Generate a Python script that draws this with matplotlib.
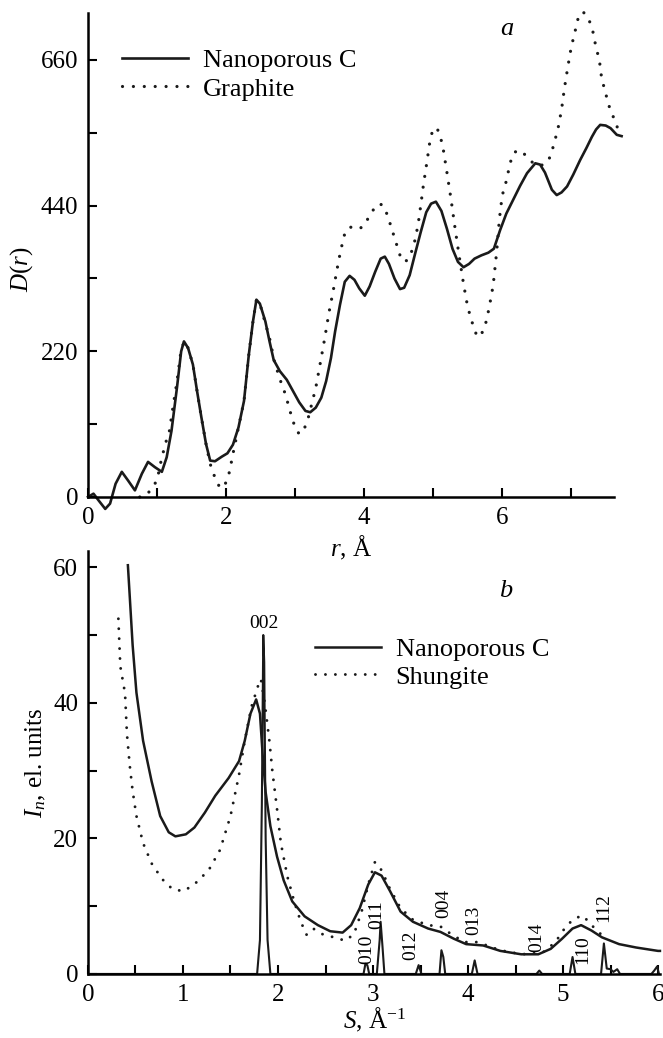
import matplotlib
matplotlib.use("Agg")
import matplotlib.pyplot as plt

plt.rcParams['font.family'] = ['Liberation Serif', 'DejaVu Serif']
plt.rcParams['mathtext.fontset'] = 'custom'
plt.rcParams['mathtext.rm'] = 'Liberation Serif'
plt.rcParams['mathtext.it'] = 'Liberation Serif:italic'

# --- panel a: D(r) ---
r_nano = [0.00, 0.08, 0.16, 0.25, 0.32, 0.40, 0.49, 0.58, 0.68, 0.78, 0.87, 0.97, 1.07, 1.14,
          1.21, 1.29, 1.35, 1.39, 1.45, 1.52, 1.58, 1.64, 1.71, 1.77, 1.84, 1.94, 2.02, 2.10,
          2.18, 2.26, 2.33, 2.39, 2.44, 2.49, 2.57, 2.63, 2.69, 2.78, 2.88, 2.97, 3.06, 3.15,
          3.22, 3.30, 3.38, 3.45, 3.52, 3.58, 3.65, 3.72, 3.79, 3.86, 3.93, 4.01, 4.08, 4.16,
          4.24, 4.30, 4.36, 4.44, 4.52, 4.58, 4.66, 4.74, 4.82, 4.90, 4.97, 5.04, 5.12, 5.20,
          5.28, 5.36, 5.44, 5.52, 5.60, 5.70, 5.80, 5.88, 5.97, 6.06, 6.16, 6.26, 6.36, 6.48,
          6.55, 6.62, 6.72, 6.79, 6.86, 6.94, 7.03, 7.13, 7.22, 7.30, 7.36, 7.42, 7.50, 7.57,
          7.66, 7.73]
d_nano = [0, 5, -6, -18, -10, 20, 38, 25, 10, 35, 53, 45, 38, 60,
          100, 166, 220, 235, 225, 200, 160, 122, 80, 55, 54, 61, 66, 79,
          105, 145, 215, 265, 298, 292, 265, 235, 207, 190, 177, 160, 143, 130,
          128, 135, 150, 175, 210, 250, 290, 325, 334, 328, 315, 304, 318, 340,
          360, 363, 352, 330, 314, 316, 335, 368, 400, 430, 443, 446, 432, 405,
          375, 355, 347, 352, 360, 365, 369, 375, 403, 428, 449, 470, 489, 504,
          502, 490, 464, 456, 460, 469, 487, 509, 527, 544, 555, 562, 561, 557,
          547, 545]

r_graph = [0.75, 0.85, 0.93, 1.00, 1.06, 1.12, 1.18, 1.23, 1.29, 1.34, 1.39, 1.45, 1.52, 1.58,
           1.64, 1.71, 1.77, 1.83, 1.89, 1.94, 1.99, 2.05, 2.10, 2.18, 2.26, 2.33, 2.39, 2.44,
           2.49, 2.57, 2.63, 2.70, 2.78, 2.86, 2.94, 3.00, 3.06, 3.12, 3.18, 3.24, 3.30, 3.37,
           3.43, 3.49, 3.55, 3.61, 3.66, 3.72, 3.78, 3.85, 3.93, 4.00, 4.08, 4.16, 4.22, 4.28,
           4.34, 4.40, 4.46, 4.52, 4.58, 4.63, 4.68, 4.73, 4.78, 4.82, 4.86, 4.91, 4.95, 4.99,
           5.05, 5.10, 5.15, 5.20, 5.26, 5.32, 5.38, 5.44, 5.50, 5.57, 5.63, 5.68, 5.75, 5.81,
           5.87, 5.92, 5.96, 6.00, 6.07, 6.11, 6.17, 6.24, 6.32, 6.43, 6.55, 6.65, 6.70, 6.75,
           6.81, 6.86, 6.90, 6.95, 7.00, 7.06, 7.10, 7.17, 7.25, 7.31, 7.35, 7.41, 7.44, 7.50,
           7.55, 7.61, 7.71]
d_graph = [0, 3, 14, 25, 55, 80, 100, 135, 175, 215, 235, 225, 200, 160,
           122, 80, 50, 32, 18, 13, 20, 38, 65, 105, 145, 215, 265, 298,
           292, 262, 240, 205, 178, 155, 125, 105, 95, 100, 115, 140, 165, 205,
           240, 278, 310, 345, 372, 398, 407, 408, 405, 410, 425, 438, 443, 440,
           425, 405, 385, 365, 355, 358, 368, 385, 410, 440, 472, 506, 535, 553,
           558, 547, 523, 490, 449, 404, 362, 322, 287, 262, 244, 242, 257, 285,
           320, 370, 420, 455, 481, 503, 520, 524, 518, 506, 500, 505, 515, 533,
           557, 585, 616, 649, 679, 705, 723, 733, 723, 705, 684, 658, 633, 609,
           590, 574, 547]

# --- panel b: I_n(S) ---
s_nano = [0.42, 0.44, 0.47, 0.51, 0.58, 0.67, 0.76, 0.85, 0.92, 1.03, 1.12, 1.23, 1.34, 1.48,
          1.59, 1.65, 1.71, 1.77, 1.81, 1.84, 1.87, 1.92, 1.99, 2.06, 2.15, 2.28, 2.42, 2.55,
          2.68, 2.77, 2.86, 2.95, 3.02, 3.09, 3.18, 3.29, 3.42, 3.58, 3.71, 3.85, 3.98, 4.16,
          4.34, 4.56, 4.74, 4.87, 4.99, 5.10, 5.19, 5.30, 5.41, 5.59, 5.77, 6.00, 6.02]
i_nano = [60.3, 55.6, 48.5, 41.5, 34.4, 28.4, 23.3, 20.9, 20.3, 20.6, 21.6, 23.8, 26.3, 28.9,
          31.4, 34.4, 38.4, 40.5, 38.4, 32.0, 26.8, 21.8, 17.3, 13.8, 10.7, 8.5, 7.2, 6.3,
          6.1, 7.2, 9.7, 13.2, 15.0, 14.5, 12.2, 9.2, 7.7, 6.7, 6.2, 5.2, 4.4, 4.2,
          3.4, 2.9, 2.9, 3.7, 5.2, 6.7, 7.2, 6.4, 5.4, 4.4, 3.9, 3.4, 3.4]

s_shung = [0.32, 0.34, 0.39, 0.41, 0.44, 0.47, 0.51, 0.58, 0.67, 0.78, 0.89, 1.01, 1.14, 1.27,
           1.39, 1.50, 1.59, 1.65, 1.72, 1.79, 1.82, 1.86, 1.91, 1.94, 1.99, 2.03, 2.10, 2.17,
           2.24, 2.30, 2.37, 2.46, 2.59, 2.71, 2.80, 2.88, 2.95, 3.02, 3.09, 3.18, 3.29, 3.42,
           3.58, 3.71, 3.82, 3.96, 4.11, 4.25, 4.43, 4.61, 4.79, 4.92, 5.03, 5.12, 5.21, 5.30,
           5.41]
i_shung = [52.4, 45.4, 41.4, 35.4, 30.7, 27.0, 23.3, 19.3, 16.3, 14.0, 12.5, 12.2, 13.5, 15.3,
           18.3, 23.3, 29.4, 34.4, 39.4, 42.5, 43.5, 40.0, 34.3, 30.0, 24.3, 19.3, 14.3, 10.7,
           7.7, 5.8, 6.7, 5.9, 5.4, 4.9, 5.9, 9.2, 13.2, 16.5, 15.3, 12.5, 9.7, 8.0,
           7.2, 7.0, 5.9, 4.7, 4.7, 3.9, 3.2, 2.9, 3.2, 4.7, 7.0, 8.2, 8.6, 7.2,
           5.7]

# graphite reflections (line profile)
s_lines = [0.00, 1.78, 1.81, 1.83, 1.845, 1.855, 1.87, 1.89, 1.92,
           2.90, 2.92, 2.94, 2.96, 3.04, 3.07, 3.08, 3.10, 3.12,
           3.45, 3.48, 3.51, 3.70, 3.72, 3.74, 3.76, 4.04, 4.07, 4.10,
           4.72, 4.75, 4.78, 5.07, 5.10, 5.13, 5.40, 5.43, 5.46, 5.50, 5.53, 5.57, 5.60,
           5.93, 5.96, 5.99, 6.01]
i_lines = [0, 0, 5, 25, 50, 46, 20, 5, 0,
           0, 1.5, 1.3, 0, 0, 5, 7.7, 4, 0,
           0, 1.3, 0, 0, 3.5, 2.5, 0, 0, 2.0, 0,
           0, 0.5, 0, 0, 2.5, 0, 0, 4.5, 0.8, 0.7, 0.3, 0.7, 0,
           0, 0.5, 1.1, 0]

hkl_labels = ['010', '011', '012', '004', '013', '014', '110', '112']
hkl_s = [2.93, 3.04, 3.40, 3.74, 4.06, 4.72, 5.21, 5.43]
hkl_i = [1.4, 6.7, 2.0, 8.3, 5.8, 3.2, 1.5, 7.7]

FS = 18
dots = (0, (0.01, 3.4))

fig = plt.figure(figsize=(6.63, 10.38), dpi=100)
ax1 = fig.add_axes([0.1327, 0.5212, 0.7934, 0.4663])
ax2 = fig.add_axes([0.1327, 0.0617, 0.8627, 0.4075])
ax2.patch.set_alpha(0)

for ax in (ax1, ax2):
    for side in ('top', 'right'):
        ax.spines[side].set_visible(False)
    for side in ('left', 'bottom'):
        ax.spines[side].set_linewidth(1.8)
    ax.tick_params(direction='in', length=6.5, width=1.5, labelsize=FS, pad=7)

# panel a
ax1.plot(r_nano, d_nano, color='#1a1a1a', lw=1.9, clip_on=False, label='Nanoporous C')
ax1.plot(r_graph, d_graph, color='#1a1a1a', lw=2.3, linestyle=dots,
         dash_capstyle='round', clip_on=False, label='Graphite')
ax1.set_xlim(0, 7.62)
ax1.set_ylim(0, 731)
ax1.set_xticks(range(0, 8))
ax1.set_xticklabels(['0', '', '2', '', '4', '', '6', ''])
ax1.set_yticks([0, 110, 220, 330, 440, 550, 660])
ax1.set_yticklabels(['0', '', '220', '', '440', '', '660'])
ax1.set_ylabel('$D(r)$', fontsize=FS)
ax1.yaxis.set_label_coords(-0.10, 0.47)
ax1.set_xlabel('$r$, Å', fontsize=FS, labelpad=4)
ax1.text(0.797, 0.966, 'a', transform=ax1.transAxes, fontsize=FS + 1,
         style='italic', ha='center', va='center')
ax1.legend(loc='upper left', bbox_to_anchor=(0.065, 0.927), frameon=False,
           fontsize=19, handlelength=2.5, handletextpad=0.55, labelspacing=0.2,
           borderpad=0, borderaxespad=0)

# panel b
ax2.plot(s_lines, i_lines, color='#1a1a1a', lw=1.5)
ax2.plot(s_nano, i_nano, color='#1a1a1a', lw=1.8, clip_on=False, label='Nanoporous C')
ax2.plot(s_shung, i_shung, color='#1a1a1a', lw=2.1, linestyle=dots,
         dash_capstyle='round', label='Shungite')
ax2.set_xlim(0, 6.02)
ax2.set_ylim(0, 62.4)
ax2.set_xticks([x * 0.5 for x in range(13)])
ax2.set_xticklabels(['0', '', '1', '', '2', '', '3', '', '4', '', '5', '', '6'])
ax2.set_yticks(range(0, 61, 10))
ax2.set_yticklabels(['0', '', '20', '', '40', '', '60'])
ax2.set_ylabel('$I_n$, el. units', fontsize=FS, labelpad=4)
ax2.set_xlabel('$S$, Å$^{-1}$', fontsize=FS, labelpad=0)
ax2.text(0.73, 0.905, 'b', transform=ax2.transAxes, fontsize=FS + 1,
         style='italic', ha='center', va='center')
ax2.text(1.85, 50.5, '002', fontsize=14, ha='center', va='bottom')
for lab, s, i in zip(hkl_labels, hkl_s, hkl_i):
    ax2.text(s, i, lab, fontsize=14, rotation=90, ha='center', va='bottom')
ax2.legend(loc='upper left', bbox_to_anchor=(0.397, 0.795), frameon=False,
           fontsize=19, handlelength=2.5, handletextpad=0.55, labelspacing=0.15,
           borderpad=0, borderaxespad=0)

fig.savefig('out.png', dpi=100)
